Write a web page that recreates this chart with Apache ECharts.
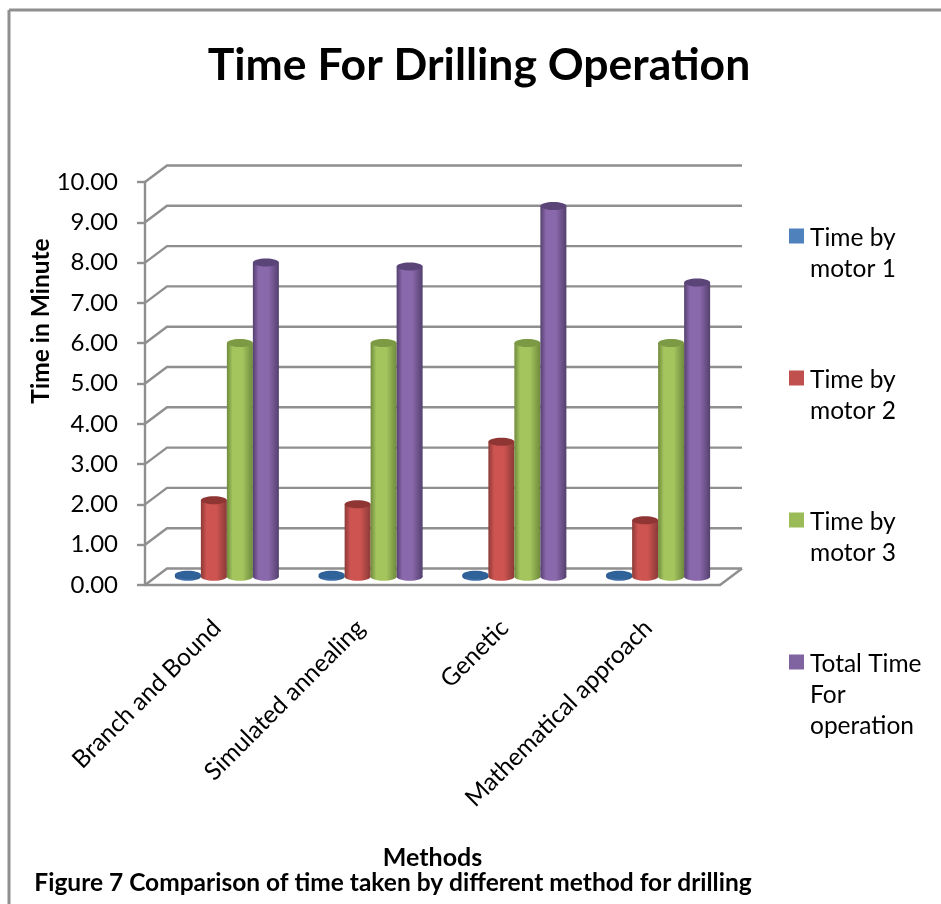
<!DOCTYPE html>
<html>
<head>
<meta charset="utf-8">
<style>html,body{margin:0;padding:0;background:#fff}#chart{width:941px;height:904px}</style>
<script src="https://cdn.jsdelivr.net/npm/echarts@6/dist/echarts.min.js"></script>
</head>
<body>
<div id="chart"></div>
<script>
const methods = ['Branch and Bound', 'Simulated annealing', 'Genetic', 'Mathematical approach'];
const yTicks = [0, 1, 2, 3, 4, 5, 6, 7, 8, 9, 10];
const motor1 = [0.05, 0.05, 0.05, 0.05];
const motor2 = [1.9, 1.8, 3.35, 1.4];
const motor3 = [5.8, 5.8, 5.8, 5.8];
const totalTime = [7.8, 7.7, 9.2, 7.3];

const FONT = 'Lato';
const GREY = '#8f8f8f';
const DEPTH_X = 22, DEPTH_Y = -16.5;   // oblique offset of the back wall
const COL_W = 26, COL_RY = 4;

// Grey wall lines: one bracket per value tick, plus the floor outline.
function renderWall(params, api) {
  const v = api.value(0);
  const band = api.size([1, 0])[0];
  const p = api.coord([0, v]);
  const left = p[0] - band / 2, y = p[1];
  const right = left + band * 4;
  const style = { stroke: GREY, lineWidth: 2.4, fill: null };
  const children = [{
    type: 'polyline',
    shape: { points: [[left, y], [left + DEPTH_X, y + DEPTH_Y], [right + DEPTH_X, y + DEPTH_Y]] },
    style
  }];
  if (v === 0) {
    children.push({
      type: 'line',
      shape: { x1: right, y1: y, x2: right + DEPTH_X, y2: y + DEPTH_Y },
      style
    });
  }
  return { type: 'group', children };
}

// One shaded cylinder, standing in the middle of the floor depth.
function cylinderRenderer(slot, mid, edge, cap) {
  return function (params, api) {
    const idx = api.value(0);
    const top = api.coord([idx, api.value(1)]);
    const base = api.coord([idx, 0]);
    const cx = base[0] + DEPTH_X / 2 - 1 + (slot - 1.5) * COL_W;
    const yTop = top[1] + DEPTH_Y / 2;
    const yBase = base[1] + DEPTH_Y / 2;
    const fill = {
      type: 'linear', x: 0, y: 0, x2: 1, y2: 0,
      colorStops: [
        { offset: 0, color: edge },
        { offset: 0.22, color: mid },
        { offset: 0.6, color: mid },
        { offset: 1, color: edge }
      ]
    };
    const hw = COL_W / 2;
    return {
      type: 'group',
      children: [
        { type: 'ellipse', shape: { cx, cy: yBase, rx: hw, ry: COL_RY }, style: { fill: fill } },
        { type: 'rect', shape: { x: cx - hw, y: yTop, width: COL_W, height: yBase - yTop }, style: { fill: fill } },
        { type: 'ellipse', shape: { cx, cy: yTop, rx: hw, ry: COL_RY }, style: { fill: cap } }
      ]
    };
  };
}

function columnSeries(name, values, slot, legendColor, mid, edge, cap) {
  return {
    name, type: 'custom', coordinateSystem: 'cartesian2d', clip: false,
    itemStyle: { color: legendColor },
    encode: { x: 0, y: 1 },
    data: values.map((v, i) => [i, v]),
    renderItem: cylinderRenderer(slot, mid, edge, cap),
    z: 3 + slot
  };
}

// Legend marker sits beside the first text line, so the symbol box is larger than the square.
// Every entry is three lines tall to keep the rows evenly spaced.
const LEGEND_H = 82;
const markerIcon = `path://M0 0H15V15H0Z M16 ${LEGEND_H}H16`;
const wrappedNames = {
  'Time by motor 1': 'Time by\nmotor 1\n\u00a0',
  'Time by motor 2': 'Time by\nmotor 2\n\u00a0',
  'Time by motor 3': 'Time by\nmotor 3\n\u00a0',
  'Total Time For operation': 'Total Time\nFor\noperation'
};

const chart = echarts.init(document.getElementById('chart'), null, { renderer: 'canvas' });
chart.setOption({
  animation: false,
  backgroundColor: '#fff',
  textStyle: { fontFamily: FONT, color: '#000' },
  title: [
    {
      text: 'Time For Drilling Operation', left: 474, top: 38, textAlign: 'center',
      textStyle: { fontFamily: FONT, fontSize: 44.5, fontWeight: 'bold', color: '#000' }
    },
    {
      text: 'Figure 7 Comparison of time taken by different method for drilling',
      left: 388, top: 866, textAlign: 'center',
      textStyle: { fontFamily: FONT, fontSize: 24.5, fontWeight: 'bold', color: '#000' }
    }
  ],
  legend: {
    orient: 'vertical', left: 789, top: 223, padding: 0,
    itemWidth: 16, itemHeight: LEGEND_H, itemGap: 49,
    selectedMode: false,
    formatter: n => wrappedNames[n],
    textStyle: { fontFamily: FONT, fontSize: 24.5, lineHeight: 31, color: '#000' },
    data: [
      { name: 'Time by motor 1', icon: markerIcon },
      { name: 'Time by motor 2', icon: markerIcon },
      { name: 'Time by motor 3', icon: markerIcon },
      { name: 'Total Time For operation', icon: markerIcon }
    ]
  },
  grid: { left: 145, top: 182, width: 575, height: 403 },
  xAxis: {
    type: 'category', data: methods,
    name: 'Methods', nameLocation: 'middle', nameGap: 260,
    nameTextStyle: { fontFamily: FONT, fontSize: 25, fontWeight: 'bold', color: '#000' },
    axisLine: { lineStyle: { color: GREY, width: 2.4 } },
    axisTick: { show: false },
    axisLabel: { rotate: 45, interval: 0, margin: 39, fontFamily: FONT, fontSize: 24.5, color: '#000' },
    splitLine: { show: false }
  },
  yAxis: {
    type: 'value', min: 0, max: 10, interval: 1,
    axisLine: { show: true, lineStyle: { color: GREY, width: 2.4 } },
    axisTick: { show: true, length: 8, lineStyle: { color: GREY, width: 2.4 } },
    axisLabel: { margin: 27, padding: [5, 0, 0, 0], formatter: v => v.toFixed(2), fontFamily: FONT, fontSize: 24, color: '#000' },
    splitLine: { show: false }
  },
  graphic: [
    { type: 'line', shape: { x1: 9, y1: 10, x2: 941, y2: 10 }, style: { stroke: GREY, lineWidth: 3 } },
    { type: 'line', shape: { x1: 9, y1: 10, x2: 9, y2: 904 }, style: { stroke: GREY, lineWidth: 3 } },
    {
      type: 'text', x: 41, y: 321, rotation: Math.PI / 2,
      style: {
        text: 'Time in Minute', font: `bold 24.5px ${FONT}`, fill: '#000',
        textAlign: 'center', textVerticalAlign: 'middle'
      }
    }
  ],
  series: [
    {
      type: 'custom', coordinateSystem: 'cartesian2d', clip: false, silent: true, z: 1,
      encode: { y: 0 },
      data: yTicks.map(v => [v]),
      renderItem: renderWall
    },
    columnSeries('Time by motor 1', motor1, 0, '#4f81bd', '#3f6fa8', '#2a5585', '#2f6298'),
    columnSeries('Time by motor 2', motor2, 1, '#c0504d', '#cd5451', '#8a3a37', '#8f3634'),
    columnSeries('Time by motor 3', motor3, 2, '#9bbb59', '#a4c55e', '#6f8a3c', '#7c9a44'),
    columnSeries('Total Time For operation', totalTime, 3, '#8064a2', '#8a68ac', '#54406e', '#5a4478')
  ]
});
</script>
</body>
</html>
